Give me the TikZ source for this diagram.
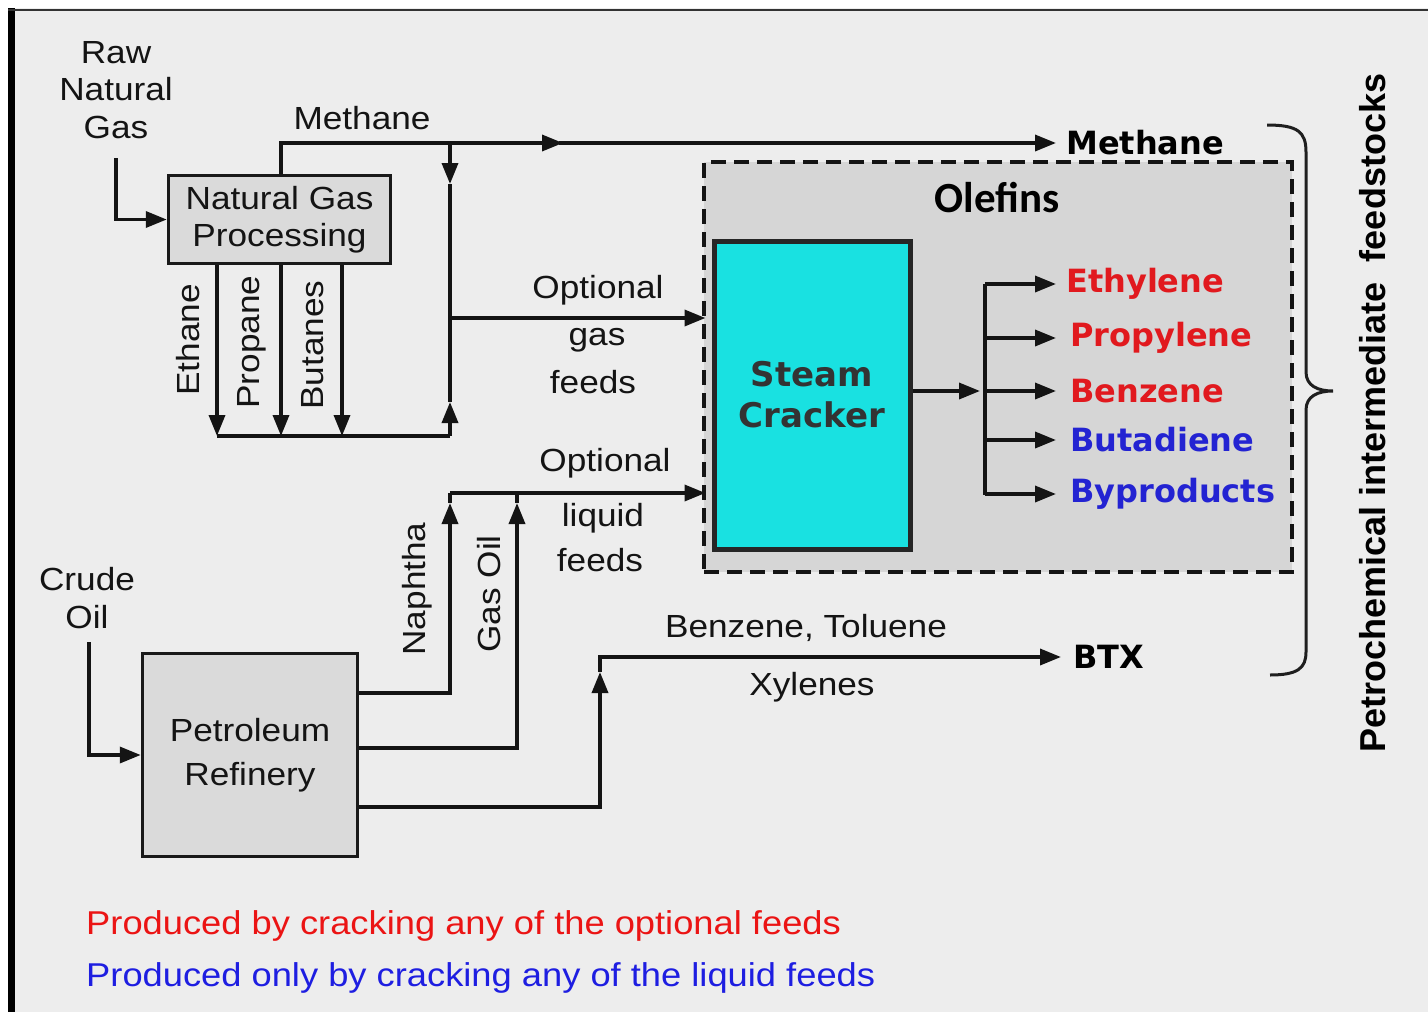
\documentclass[tikz,border=0pt]{standalone}
\usepackage{fontspec}
\usetikzlibrary{arrows.meta}
\newfontfamily\regfont[FakeStretch=1.1]{Liberation Sans}
\newfontfamily\dvfont{DejaVu Sans}
\newfontfamily\carlfont{Carlito}
\newfontfamily\libfont{Liberation Sans}
\definecolor{bgcol}{RGB}{237,237,237}
\definecolor{boxgray}{RGB}{218,218,218}
\definecolor{olefgray}{RGB}{214,214,214}
\definecolor{cyanfill}{RGB}{25,225,225}
\definecolor{prodred}{RGB}{225,25,30}
\definecolor{prodblue}{RGB}{35,35,210}
\definecolor{legred}{RGB}{235,20,20}
\definecolor{legblue}{RGB}{30,30,225}
\tikzset{
  txt/.style={font={\regfont\fontsize{32}{37.5}\selectfont}, inner sep=0pt, align=center, text=black!92},
  prod/.style={font={\dvfont\bfseries\fontsize{32}{36}\selectfont}, inner sep=0pt, anchor=west},
  procbox/.style={draw=black!90, line width=3.5pt, fill=boxgray, inner sep=0pt, align=center,
    font={\regfont\fontsize{32}{37.5}\selectfont}, text=black!92},
  conn/.style={line width=3.5pt, draw=black!92},
  arrowed/.style={conn, -{Triangle[length=21pt,width=16pt]}},
  legend/.style={font={\regfont\fontsize{33}{38}\selectfont}, inner sep=0pt, anchor=west},
}
\begin{document}
\begin{tikzpicture}[x=1pt,y=-1pt]
\useasboundingbox (0,0) rectangle (1428,1015);
\fill[white] (0,0) rectangle (1428,1015);
\fill[bgcol] (8,8) rectangle (1428,1012);
\fill[black] (8,8) rectangle (15,1012);
\draw[line width=2.5pt, black!80] (8,10) -- (1428,10);

% Olefins area
\node[draw=black!92, dash pattern=on 15pt off 8pt, line width=3.5pt, fill=olefgray,
      minimum width=588pt, minimum height=410pt, inner sep=0pt] (olef) at (998,367) {};
\node[font={\carlfont\bfseries\fontsize{43}{48}\selectfont}, inner sep=0pt] (oltitle) at (997,198) {Olefins};

% Boxes
\node[procbox, minimum width=222pt, minimum height=88pt] (ngp) at (279.5,219.5) {Natural Gas\\Processing};
\node[procbox, minimum width=215pt, minimum height=203pt] (rf) at (250,755) {Petroleum\\[6pt]Refinery};
\node[draw=black!85, line width=5pt, fill=cyanfill, minimum width=196pt, minimum height=308pt,
      inner sep=0pt, align=center, text=black!80,
      font={\dvfont\bfseries\fontsize{34}{41}\selectfont}] (sc) at (812,395) {Steam\\Cracker};

% Text labels
\node[txt] (rawgas) at (116,90) {Raw\\Natural\\Gas};
\node[txt] (crude) at (87,598) {Crude\\Oil};
\node[txt] (methlab) at (362,118) {Methane};
\node[txt, rotate=90] (ethlab) at (188,340) {Ethane};
\node[txt, rotate=90] (prolab) at (252,342) {Propane};
\node[txt, rotate=90] (butlab) at (313,345) {Butanes};
\node[txt] (opt1) at (598,290) {Optional};
\node[txt] (gas1) at (597,340) {gas};
\node[txt] (feed1) at (593,382) {feeds};
\node[txt] (opt2) at (605,463) {Optional};
\node[txt] (liq2) at (603,518) {liquid};
\node[txt] (feed2) at (600,560) {feeds};
\node[txt, rotate=90] (naplab) at (417,589) {Naphtha};
\node[txt, rotate=90] (goillab) at (489,594) {Gas Oil};
\node[txt] (btlab) at (806,628) {Benzene, Toluene};
\node[txt] (xylab) at (812,687) {Xylenes};

% Product labels
\node[prod, text=black] (methout) at (1066,143) {Methane};
\node[prod, text=prodred] (ethy) at (1066,284) {Ethylene};
\node[prod, text=prodred] (propy) at (1070,338) {Propylene};
\node[prod, text=prodred] (benz) at (1070,391) {Benzene};
\node[prod, text=prodblue] (buta) at (1070,440) {Butadiene};
\node[prod, text=prodblue] (bypr) at (1070,494) {Byproducts};
\node[prod, text=black] (btx) at (1073,657) {BTX};

% Junction coordinates
\coordinate (rawtop) at (116,158);
\coordinate (crtop) at (89,642);
\coordinate (mj) at (450,143);
\coordinate (mmid) at (563,143);
\coordinate (gdown) at (450,184);
\coordinate (gfj) at (450,318);
\coordinate (gup) at (450,402);
\coordinate (eb) at (217,436);
\coordinate (pb) at (281,436);
\coordinate (bb) at (342,436);
\coordinate (bj) at (450,436);
\coordinate (lj) at (450,493);
\coordinate (gj) at (517,493);
\coordinate (nb) at (450,693);
\coordinate (na) at (450,503);
\coordinate (gob) at (517,748);
\coordinate (goa) at (517,503);
\coordinate (bxb) at (600,807);
\coordinate (bxa) at (600,672);
\coordinate (oj) at (985,391);
\coordinate (oj1) at (985,284);
\coordinate (oj5) at (985,495);

% Natural gas side
\draw[arrowed] (rawtop) |- (ngp.west);
\draw[conn] (ngp.north -| 281,0) |- (mj);
\draw[arrowed] (mj) -- (mmid);
\draw[conn] (mmid) -- ++(-4,0);
\draw[arrowed] (mmid) -- ([xshift=-10pt]methout.west);
\draw[arrowed] (mj) -- (gdown);
\draw[conn] (gdown) -- (gfj);
\draw[arrowed] (ngp.south -| eb) -- (eb);
\draw[arrowed] (ngp.south -| pb) -- (pb);
\draw[arrowed] (ngp.south -| bb) -- (bb);
\draw[conn] (eb) -- (bj);
\draw[arrowed] (bj) -- (gup);
\draw[conn] (gup) -- (gfj);
\draw[arrowed] (gfj) -- ([xshift=-6pt]sc.west |- gfj);

% Refinery side
\draw[arrowed] (crtop) |- (rf.west);
\draw[arrowed] (rf.east |- nb) -| (na);
\draw[conn] (na) -- (lj);
\draw[arrowed] (rf.east |- gob) -| (goa);
\draw[conn] (goa) -- (gj);
\draw[arrowed] (lj) -- ([xshift=-6pt]sc.west |- lj);
\draw[arrowed] (rf.east |- bxb) -| (bxa);
\draw[arrowed] (bxa) |- ([xshift=-12pt]btx.west);

% Cracker outputs
\draw[arrowed] (sc.east |- oj) -- ([xshift=-5pt]oj);
\draw[conn] (oj1) -- (oj5);
\draw[arrowed] (oj1) -- ([xshift=-10pt]ethy.west);
\draw[arrowed] (oj1 |- propy) -- ([xshift=-14pt]propy.west);
\draw[arrowed] (oj) -- ([xshift=-14pt]benz.west);
\draw[arrowed] (oj1 |- buta) -- ([xshift=-14pt]buta.west);
\draw[arrowed] (oj1 |- bypr) -- ([xshift=-14pt]bypr.west);

% Brace
\draw[line width=3pt, black!88] (1267,125) .. controls (1298,125) and (1306,132) .. (1306,152)
  -- (1306,372) .. controls (1306,386) and (1318,391) .. (1333,391)
  .. controls (1318,391) and (1306,396) .. (1306,410)
  -- (1306,652) .. controls (1306,668) and (1298,675) .. (1270,675);
\node[font={\libfont\bfseries\fontsize{36}{40}\selectfont}, inner sep=0pt, rotate=90] (feedstk) at (1373,413)
  {Petrochemical intermediate\ \ feedstocks};

% Legend
\node[legend, text=legred] (leg1) at (86,926) {Produced by cracking any of the optional feeds};
\node[legend, text=legblue] (leg2) at (86,978) {Produced only by cracking any of the liquid feeds};
\end{tikzpicture}
\end{document}
